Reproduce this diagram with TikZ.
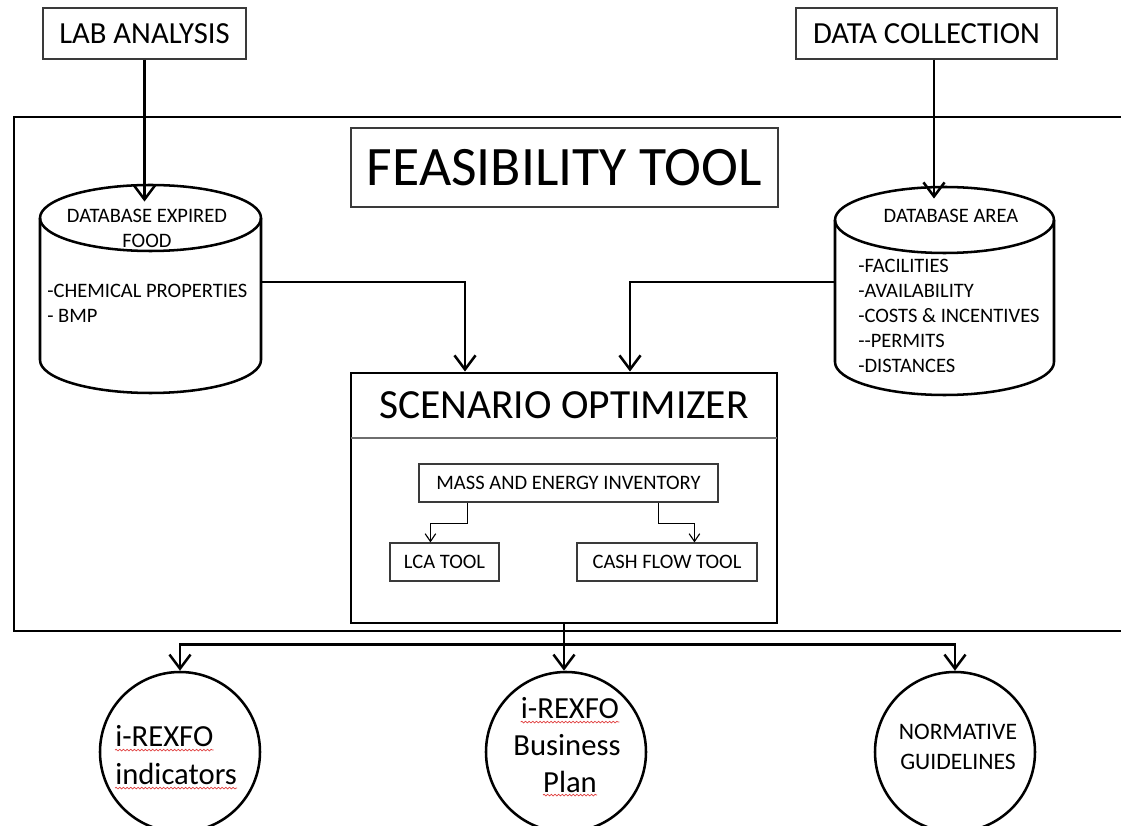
\documentclass[tikz,border=0pt]{standalone}
\usepackage{fontspec}
\setmainfont{Carlito}
\usepackage{xcolor}
\usetikzlibrary{arrows.meta, decorations.pathmorphing}
\definecolor{my_darkgray}{HTML}{3A3A3A}
\definecolor{my_midgray}{HTML}{6E6E6E}
\definecolor{my_red}{HTML}{E04040}
\def\unitlen{0.025cm}

\begin{document}
\begin{tikzpicture}[
    x=\unitlen, y=-\unitlen,
    plainbox/.style={draw=my_darkgray, line width=0.8pt, inner sep=0pt},
    thickbox/.style={draw=black, line width=2.1pt, inner sep=0pt},
    frame/.style={draw=black, line width=2.1pt},
    dbline/.style={draw=black, line width=1.8pt},
    divider/.style={draw=my_midgray, line width=1pt},
    flow/.style={draw=black, line width=1.8pt, -{Straight Barb[length=10pt, width=15pt]}},
    smallflow/.style={draw=black, line width=0.8pt, -{Straight Barb[length=5.5pt, width=7.5pt]}},
    result/.style={circle, draw=black, line width=1.8pt, inner sep=0pt, minimum size=160*\unitlen},
    resulttext/.style={inner sep=0pt, font=\fontsize{21.8}{26}\selectfont},
    normtext/.style={inner sep=0pt, font=\fontsize{16.8}{20}\selectfont},
    spellmark/.style={draw=my_red, line width=0.5pt, decorate,
        decoration={snake, amplitude=0.6pt, segment length=2.6pt}},
    bigfont/.style={font=\fontsize{21.8}{26}\selectfont},
    dbfont/.style={font=\fontsize{14.6}{17.8}\selectfont}
]
\useasboundingbox (0,0) rectangle (1121,826);

%% ================================================================
%% EINGANGSDATEN
%% ================================================================
\node[plainbox, bigfont, minimum width=203*\unitlen, minimum height=51*\unitlen]
    (lab) at (144.5,33.5) {LAB ANALYSIS};
\node[plainbox, bigfont, minimum width=261*\unitlen, minimum height=51*\unitlen]
    (collect) at (926.5,33.5) {DATA COLLECTION};

%% ================================================================
%% RAHMEN: Feasibility Tool (rechts offen)
%% ================================================================
\draw[frame] (1130,117) -- (14,117) -- (14,631) -- (1130,631);
\node[plainbox, font=\fontsize{39.6}{46}\selectfont,
      minimum width=427*\unitlen, minimum height=79*\unitlen]
    (feas) at (564.5,167.5) {FEASIBILITY TOOL};

%% --- Datenbank links ---
\draw[dbline] (150.5,218) ellipse [x radius=110.5, y radius=33];
\draw[dbline] (261,218) -- (261,360)
    arc[start angle=0, end angle=180, x radius=110.5, y radius=33] -- (40,218);
\coordinate (foodout) at (261,282);
\node[dbfont, align=center, inner sep=0pt] (foodtitle) at (147,228.5)
    {DATABASE EXPIRED\\FOOD};
\node[dbfont, align=left, inner sep=0pt, anchor=west] (foodlist) at (47,303.5)
    {-CHEMICAL PROPERTIES\\- BMP};

%% --- Datenbank rechts ---
\draw[dbline] (944.5,220) ellipse [x radius=109.5, y radius=33];
\draw[dbline] (1054,220) -- (1054,362)
    arc[start angle=0, end angle=180, x radius=109.5, y radius=33] -- (835,220);
\coordinate (areaout) at (835,282);
\node[dbfont, inner sep=0pt] (areatitle) at (951,216) {DATABASE AREA};
\node[dbfont, align=left, inner sep=0pt, anchor=west] (arealist) at (858,316)
    {-FACILITIES\\-AVAILABILITY\\-COSTS \& INCENTIVES\\-{}-PERMITS\\-DISTANCES};

%% --- Scenario Optimizer ---
\node[thickbox, minimum width=426*\unitlen, minimum height=250*\unitlen]
    (optimizer) at (564,498) {};
\node[font=\fontsize{29.5}{34}\selectfont, inner sep=0pt, anchor=north,
      minimum width=426*\unitlen, minimum height=66*\unitlen]
    (optitle) at (optimizer.north) {SCENARIO OPTIMIZER};
\draw[divider] (optitle.south west) -- (optitle.south east);

\node[plainbox, dbfont, minimum width=299*\unitlen, minimum height=38*\unitlen]
    (mass) at (568.5,483) {MASS AND ENERGY INVENTORY};
\node[plainbox, dbfont, minimum width=109*\unitlen, minimum height=38*\unitlen]
    (lca) at (444.5,562) {LCA TOOL};
\node[plainbox, dbfont, minimum width=180*\unitlen, minimum height=38*\unitlen]
    (cash) at (667,562) {CASH FLOW TOOL};

\draw[smallflow] ([xshift=49*\unitlen]mass.south west) -- ++(0,21)
    -| ([xshift=41*\unitlen]lca.north west);
\draw[smallflow] ([xshift=240*\unitlen]mass.south west) -- ++(0,21)
    -| ([xshift=118*\unitlen]cash.north west);

%% --- Pfeile in die Datenbanken und zum Optimizer ---
\draw[flow] (lab.south) -- ++(0,142);
\draw[flow] ([xshift=7.5*\unitlen]collect.south) -- ++(0,139);
\draw[flow] (foodout) -| ([xshift=-99*\unitlen]optimizer.north);
\draw[flow] (areaout) -| ([xshift=66*\unitlen]optimizer.north);

%% ================================================================
%% ERGEBNISSE
%% ================================================================
\node[result] (indic) at (180,752) {};
\node[result] (plan) at (566,752) {};
\node[result] (norm) at (955,752) {};

\node[resulttext, anchor=base west] (indic1) at (115,747) {i-REXFO};
\node[resulttext, anchor=base west] (indic2) at (115,785) {indicators};
\node[resulttext, anchor=base] (plan1) at (570,719) {i-REXFO};
\node[resulttext, anchor=base] (plan2) at (567,756) {Business};
\node[resulttext, anchor=base] (plan3) at (570,792) {Plan};
\node[normtext, anchor=base] (norm1) at (958,740) {NORMATIVE};
\node[normtext, anchor=base] (norm2) at (958,770) {GUIDELINES};

\draw[draw=black, line width=1.8pt] (optimizer.south) -- ++(0,20) coordinate (split);
\draw[flow] (split) -| (indic.north);
\draw[flow] (split) -- (split |- plan.north);
\draw[flow] (split) -| (norm.north);

%% --- Rechtschreib-Markierungen ---
\foreach \w in {indic1, indic2, plan1, plan3} {
    \draw[spellmark] ([yshift=-2.2pt]\w.base west) -- ([yshift=-2.2pt]\w.base east);
}

\end{tikzpicture}
\end{document}
